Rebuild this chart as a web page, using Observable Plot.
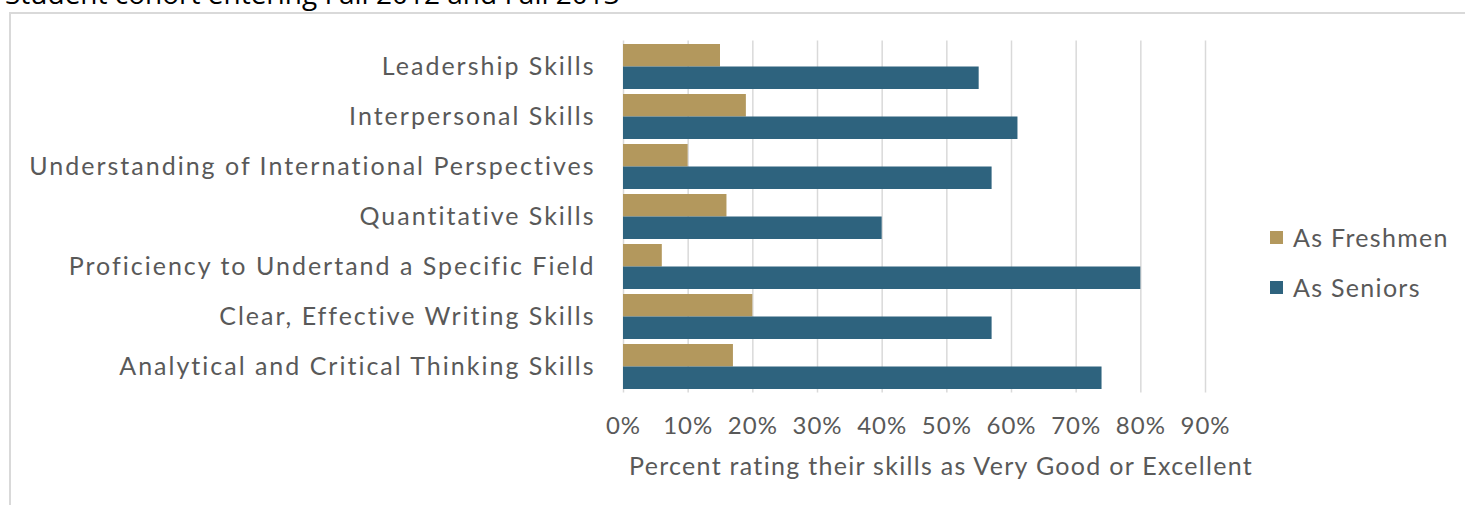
<!DOCTYPE html>
<html><head><meta charset="utf-8">
<script src="https://cdn.jsdelivr.net/npm/d3@7"></script>
<script src="https://cdn.jsdelivr.net/npm/@observablehq/plot@0.6"></script>
<style>
html,body{margin:0;padding:0;width:1465px;height:505px;overflow:hidden;background:#fff;}
#title{position:absolute;left:5px;top:-21px;font:28px "Open Sans",sans-serif;color:#000;white-space:nowrap;line-height:28px;}
#frame{position:absolute;left:9px;top:12px;width:1500px;height:600px;border-left:2px solid #d9d9d9;border-top:2px solid #d9d9d9;}
#chart{position:absolute;left:0;top:0;}
.lg{position:absolute;left:1270px;height:30px;line-height:30px;font:25px Lato,sans-serif;letter-spacing:1.3px;color:#595959;display:flex;align-items:center;white-space:nowrap;}
.lg .sw{display:inline-block;width:13px;height:13px;margin-right:10px;}
#xlabel{position:absolute;left:941px;top:450px;height:30px;line-height:30px;transform:translateX(-50%);font:25px Lato,sans-serif;letter-spacing:1.3px;color:#595959;white-space:nowrap;}
</style></head>
<body>
<div id="title">Student cohort entering Fall 2012 and Fall 2013</div>
<div id="frame"></div>
<div id="chart"></div>
<div id="xlabel"></div>
<div id="legend"></div>
<script>
const categories = [
  "Leadership Skills",
  "Interpersonal Skills",
  "Understanding of International Perspectives",
  "Quantitative Skills",
  "Proficiency to Undertand a Specific Field",
  "Clear, Effective Writing Skills",
  "Analytical and Critical Thinking Skills"
];
const freshmen = [0.15, 0.19, 0.10, 0.16, 0.06, 0.20, 0.17];
const seniors  = [0.55, 0.61, 0.57, 0.40, 0.80, 0.57, 0.74];
const seriesNames = ["As Freshmen", "As Seniors"];
const seriesColors = ["#B3985D", "#2E637E"];
const xTicks = [0, 0.1, 0.2, 0.3, 0.4, 0.5, 0.6, 0.7, 0.8, 0.9];
const xTitle = "Percent rating their skills as Very Good or Excellent";

const fData = categories.map((c, i) => ({category: c, value: freshmen[i], series: seriesNames[0]}));
const sData = categories.map((c, i) => ({category: c, value: seniors[i], series: seriesNames[1]}));

const font = "Lato, sans-serif";
const pct = d => Math.round(d * 100) + "%";
const chart = Plot.plot({
  width: 1465,
  height: 505,
  marginLeft: 623,
  marginRight: 260,
  marginTop: 40.5,
  marginBottom: 112.5,
  style: {fontFamily: font, fontSize: "24px", color: "#595959", background: "transparent"},
  x: {domain: [0, 0.9], ticks: xTicks, tickFormat: pct, label: null},
  y: {domain: categories, paddingInner: 0.1, paddingOuter: 0.07, label: null},
  color: {domain: seriesNames, range: seriesColors},
  marks: [
    Plot.gridX(xTicks, {stroke: "#d9d9d9", strokeOpacity: 1, strokeWidth: 1.5}),
    Plot.barX(fData, {x: "value", y: "category", fill: "series", insetBottom: 22.5}),
    Plot.barX(sData, {x: "value", y: "category", fill: "series", insetTop: 22.5}),
    Plot.axisX(xTicks, {tickSize: 0, tickPadding: 24, tickFormat: pct, fill: "#595959", fontSize: 24, label: null}),
    Plot.axisY({tickSize: 0, tickPadding: 28, fill: "#595959", fontSize: 25, label: null})
  ]
});
chart.querySelectorAll("[aria-label='y-axis tick label']").forEach(el => el.style.letterSpacing = "2px");
chart.querySelectorAll("[aria-label='x-axis tick label']").forEach(el => el.style.letterSpacing = "1px");
document.getElementById("chart").appendChild(chart);
document.getElementById("xlabel").textContent = xTitle;

const legend = document.getElementById("legend");
const legendTops = [222, 272];
seriesNames.forEach((name, i) => {
  const d = document.createElement("div");
  d.className = "lg";
  d.style.top = legendTops[i] + "px";
  const sw = document.createElement("span");
  sw.className = "sw";
  sw.style.background = seriesColors[i];
  d.appendChild(sw);
  d.appendChild(document.createTextNode(name));
  legend.appendChild(d);
});
</script>
</body></html>
